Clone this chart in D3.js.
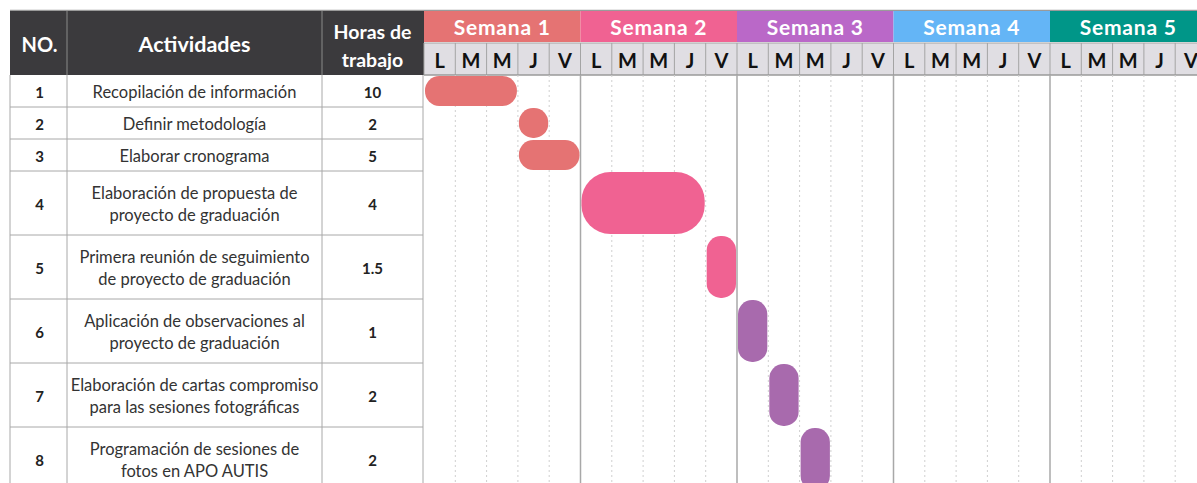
<!DOCTYPE html>
<html>
<head>
<meta charset="utf-8">
<script src="https://cdn.jsdelivr.net/npm/d3@7"></script>
<style>
  body { margin: 0; background: #fff; }
  svg { display: block; font-family: Lato, "Open Sans", sans-serif; }
</style>
</head>
<body>
<svg id="gantt" width="1197" height="483"></svg>
<script>
// Data
const ids = ["1", "2", "3", "4", "5", "6", "7", "8"];
const activities = [
  ["Recopilación de información"],
  ["Definir metodología"],
  ["Elaborar cronograma"],
  ["Elaboración de propuesta de", "proyecto de graduación"],
  ["Primera reunión de seguimiento", "de proyecto de graduación"],
  ["Aplicación de observaciones al", "proyecto de graduación"],
  ["Elaboración de cartas compromiso", "para las sesiones fotográficas"],
  ["Programación de sesiones de", "fotos en APO AUTIS"]
];
const hours = ["10", "2", "5", "4", "1.5", "1", "2", "2"];
const startDay = [0, 3, 3, 5, 9, 10, 11, 12];   // index of working day (0 = Semana 1, L)
const durationDays = [3, 1, 2, 4, 1, 1, 1, 1];
const rowSize = [1, 1, 1, 2, 2, 2, 2, 2];       // row height in units
const weeks = ["Semana 1", "Semana 2", "Semana 3", "Semana 4", "Semana 5"];
const weekColors = ["#e57373", "#f06292", "#ba68c8", "#64b5f6", "#009688"];
const barColors = ["#e57373", "#f06292", "#a86aad", "#64b5f6", "#009688"];
const days = ["L", "M", "M", "J", "V"];

const svg = d3.select("#gantt");

// layout
const topY = 11, headH = 64, bodyTop = topY + headH;
const tableLeft = 10, colNo = 67, colAct = 322, colHrs = 423;
const ganttLeft = 424, dayW = 31.3;
const unit = 32;

const nDays = weeks.length * days.length;
const x = d3.scaleLinear().domain([0, nDays]).range([ganttLeft, ganttLeft + nDays * dayW]);

const cum = [0];
rowSize.forEach((s, i) => cum.push(cum[i] + s));
const y = d3.scaleLinear().domain([0, cum[cum.length - 1]]).range([bodyTop, bodyTop + cum[cum.length - 1] * unit]);

// top border
svg.append("line")
  .attr("x1", tableLeft).attr("x2", 1197)
  .attr("y1", topY - 0.5).attr("y2", topY - 0.5)
  .attr("stroke", "#9a9a9a").attr("stroke-width", 1.5);

// dark table header
svg.append("rect")
  .attr("x", tableLeft).attr("y", topY)
  .attr("width", colHrs - tableLeft + 1).attr("height", headH)
  .attr("fill", "#3b3a3d");

[colNo, colAct].forEach(cx => {
  svg.append("line")
    .attr("x1", cx).attr("x2", cx).attr("y1", topY).attr("y2", bodyTop)
    .attr("stroke", "#8a8a8a").attr("stroke-width", 1);
});

const headTxt = svg.append("g").attr("fill", "#fff").attr("font-weight", "bold").attr("text-anchor", "middle");
headTxt.append("text").attr("x", (tableLeft + colNo) / 2 + 1).attr("y", 52).attr("font-size", 20).text("NO.");
headTxt.append("text").attr("x", (colNo + colAct) / 2).attr("y", 52).attr("font-size", 21.5).text("Actividades");
headTxt.append("text").attr("x", (colAct + colHrs) / 2).attr("y", 39).attr("font-size", 19.5).text("Horas de");
headTxt.append("text").attr("x", (colAct + colHrs) / 2).attr("y", 67).attr("font-size", 19.5).text("trabajo");

// week header
const weekG = svg.append("g");
weeks.forEach((w, i) => {
  const x0 = x(i * days.length), x1 = x((i + 1) * days.length);
  weekG.append("rect")
    .attr("x", x0).attr("y", topY).attr("width", x1 - x0).attr("height", 31)
    .attr("fill", weekColors[i]);
  weekG.append("text")
    .attr("x", (x0 + x1) / 2).attr("y", topY + 24)
    .attr("text-anchor", "middle").attr("fill", "#fff")
    .attr("font-weight", "bold").attr("font-size", 21)
    .attr("letter-spacing", 0.8)
    .text(w);
});

// day header
const dayTop = topY + 32, dayH = bodyTop - dayTop;
svg.append("rect")
  .attr("x", ganttLeft).attr("y", dayTop).attr("width", x(nDays) - ganttLeft).attr("height", dayH)
  .attr("fill", "#e0dee3");
d3.range(nDays).forEach(d => {
  const x0 = x(d);
  svg.append("line")
    .attr("x1", x0).attr("x2", x0).attr("y1", dayTop).attr("y2", bodyTop)
    .attr("stroke", "#a4a4a4");
  svg.append("text")
    .attr("x", x0 + dayW / 2).attr("y", dayTop + 25)
    .attr("text-anchor", "middle").attr("font-weight", "bold").attr("font-size", 20)
    .attr("fill", "#111")
    .text(days[d % days.length]);
});
svg.append("line")
  .attr("x1", ganttLeft).attr("x2", 1197).attr("y1", dayTop).attr("y2", dayTop)
  .attr("stroke", "#a4a4a4");
svg.append("line")
  .attr("x1", ganttLeft).attr("x2", 1197).attr("y1", bodyTop).attr("y2", bodyTop)
  .attr("stroke", "#9a9a9a").attr("stroke-width", 1.5);

// gantt grid
const bodyBottom = y(cum[cum.length - 1]);
d3.range(1, nDays).forEach(d => {
  const weekLine = d % days.length === 0;
  svg.append("line")
    .attr("x1", x(d)).attr("x2", x(d)).attr("y1", bodyTop).attr("y2", bodyBottom)
    .attr("stroke", weekLine ? "#a8a8a8" : "#cfcfcf")
    .attr("stroke-width", weekLine ? 1.5 : 1)
    .attr("stroke-dasharray", weekLine ? null : "2,3");
});

// table body
const table = svg.append("g");
ids.forEach((id, i) => {
  const y0 = y(cum[i]), y1 = y(cum[i + 1]), cy = (y0 + y1) / 2;
  table.append("line")
    .attr("x1", tableLeft).attr("x2", colHrs).attr("y1", y1).attr("y2", y1)
    .attr("stroke", "#a8a8a8");
  table.append("text")
    .attr("x", (tableLeft + colNo) / 2 + 1).attr("y", cy + 7)
    .attr("text-anchor", "middle").attr("font-weight", "bold").attr("font-size", 15)
    .attr("fill", "#222").text(id);
  table.append("text")
    .attr("x", (colAct + colHrs) / 2).attr("y", cy + 7)
    .attr("text-anchor", "middle").attr("font-weight", "bold").attr("font-size", 15)
    .attr("fill", "#222").text(hours[i]);
  const lines = activities[i];
  lines.forEach((t, j) => {
    table.append("text")
      .attr("x", (colNo + colAct) / 2)
      .attr("y", cy + 7 + (j - (lines.length - 1) / 2) * 22)
      .attr("text-anchor", "middle").attr("font-size", 16.5)
      .attr("fill", "#333").text(t);
  });
});
[tableLeft, colNo, colAct, colHrs].forEach(cx => {
  table.append("line")
    .attr("x1", cx).attr("x2", cx).attr("y1", bodyTop).attr("y2", bodyBottom)
    .attr("stroke", "#a8a8a8");
});

// bars
svg.append("g").selectAll("rect")
  .data(ids.map((id, i) => ({ s: startDay[i], d: durationDays[i], i })))
  .join("rect")
  .attr("x", d => x(d.s) + 1)
  .attr("y", d => y(cum[d.i]) + 1)
  .attr("width", d => x(d.s + d.d) - x(d.s) - 2)
  .attr("height", d => y(cum[d.i + 1]) - y(cum[d.i]) - 2)
  .attr("rx", d => Math.min(x(d.s + d.d) - x(d.s), y(cum[d.i + 1]) - y(cum[d.i])) * 0.45)
  .attr("fill", d => barColors[Math.floor(d.s / days.length)]);
</script>
</body>
</html>
